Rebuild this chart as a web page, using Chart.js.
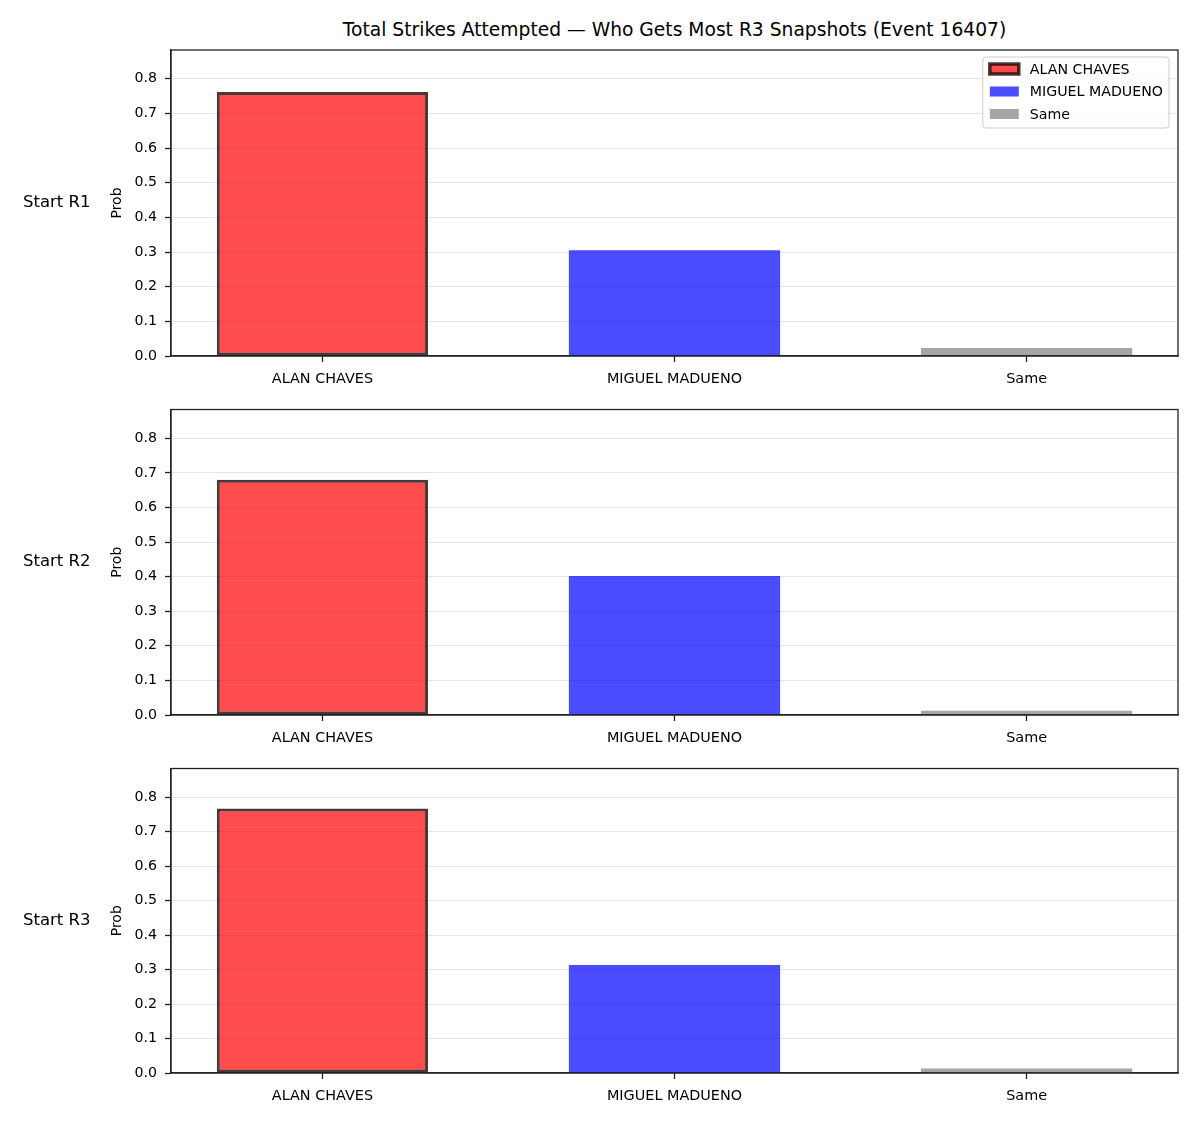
<!DOCTYPE html>
<html><head><meta charset="utf-8">
<script src="https://cdn.jsdelivr.net/npm/chart.js@4.4.0/dist/chart.umd.min.js"></script>
<style>
html,body{margin:0;padding:0;background:#fff;width:1200px;height:1125px;overflow:hidden;font-family:"DejaVu Sans",sans-serif;color:#000;}
canvas{position:absolute;left:0;}
.txt{position:absolute;white-space:nowrap;line-height:22px;}
</style></head><body>
<div id="title" class="txt" style="left:171px;width:1007px;top:19px;text-align:center;font-size:18.7px;"></div>
<canvas id="c0" width="1200" height="400" style="top:0px"></canvas>
<canvas id="c1" width="1200" height="366" style="top:393px"></canvas>
<canvas id="c2" width="1200" height="365" style="top:752px"></canvas>
<script>
// ---- data ----
const titleText = 'Total Strikes Attempted — Who Gets Most R3 Snapshots (Event 16407)';
const categories = ['ALAN CHAVES', 'MIGUEL MADUENO', 'Same'];
const rowLabels = ['Start R1', 'Start R2', 'Start R3'];
const probStartR1 = [0.762, 0.305, 0.023];
const probStartR2 = [0.680, 0.402, 0.012];
const probStartR3 = [0.767, 0.313, 0.013];
const yTickValues = [0.0, 0.1, 0.2, 0.3, 0.4, 0.5, 0.6, 0.7, 0.8];
const yAxisTitle = 'Prob';

// ---- styles ----
const fills = ['rgba(255,0,0,0.7)', 'rgba(0,0,255,0.7)', 'rgba(128,128,128,0.7)'];
const edges = ['rgba(20,0,0,0.78)', 'rgba(0,0,0,0)', 'rgba(0,0,0,0)'];
const edgeW = [3, 0, 0];
const FONT = 'DejaVu Sans';

document.getElementById('title').textContent = titleText;

const framePlugin = {
  id: 'frame',
  afterDatasetsDraw(chart) {
    const a = chart.chartArea, ctx = chart.ctx;
    ctx.save();
    ctx.strokeStyle = '#222';
    ctx.lineWidth = 1.3;
    ctx.strokeRect(a.left, a.top, a.right - a.left, a.bottom - a.top);
    ctx.restore();
  }
};

const insideLegend = {
  id: 'insideLegend',
  afterDraw(chart, args, opts) {
    if (!opts.show) return;
    const ctx = chart.ctx, a = chart.chartArea;
    ctx.save();
    ctx.font = '14.2px "' + FONT + '"';
    const items = chart.data.datasets;
    const tw = Math.max(...items.map(d => ctx.measureText(d.label).width));
    const w = 7 + 30 + 11 + tw + 5, rowH = 22.5, h = 71;
    const x = a.right - 9 - w, y = a.top + 7;
    ctx.beginPath();
    ctx.roundRect(x, y, w, h, 3);
    ctx.fillStyle = 'rgba(255,255,255,0.8)';
    ctx.fill();
    ctx.strokeStyle = '#cccccc';
    ctx.lineWidth = 1;
    ctx.stroke();
    items.forEach((d, i) => {
      const cy = y + 12 + i * rowH;
      const px = x + 7, pw = 29, ph = 10;
      ctx.fillStyle = d.backgroundColor;
      ctx.fillRect(px, cy - ph / 2, pw, ph);
      if (d.borderWidth > 0) {
        ctx.strokeStyle = d.borderColor;
        ctx.lineWidth = 3.5;
        ctx.strokeRect(px, cy - ph / 2, pw, ph);
      }
      ctx.fillStyle = '#000';
      ctx.textBaseline = 'middle';
      ctx.textAlign = 'left';
      ctx.fillText(d.label, x + 47, cy + 1);
    });
    ctx.restore();
  }
};

function makeChart(id, values, showLegend, padTop, xAxisH) {
  return new Chart(document.getElementById(id), {
    type: 'bar',
    data: {
      datasets: categories.map((c, i) => ({
        label: c,
        data: [{ x: i, y: values[i] }],
        backgroundColor: fills[i],
        borderColor: edges[i],
        borderWidth: edgeW[i],
        borderSkipped: false,
        grouped: false,
        categoryPercentage: 1,
        barPercentage: 0.6
      }))
    },
    options: {
      responsive: false,
      animation: false,
      devicePixelRatio: 1,
      layout: { padding: { left: 105, right: 22, top: padTop, bottom: 0 } },
      plugins: {
        legend: { display: false },
        tooltip: { enabled: false },
        insideLegend: { show: showLegend }
      },
      scales: {
        x: {
          type: 'linear', min: -0.43, max: 2.43, offset: false,
          afterBuildTicks: s => { s.ticks = categories.map((_, i) => ({ value: i })); },
          afterFit: s => { s.height = xAxisH; },
          ticks: {
            callback: v => categories[v] !== undefined ? categories[v] : '',
            font: { family: FONT, size: 14.4 }, color: '#000', padding: 9,
            maxRotation: 0, autoSkip: false
          },
          grid: { display: true, drawOnChartArea: false, offset: false, tickLength: 6, tickColor: '#222', tickWidth: 1.3 },
          border: { display: true, color: '#222', width: 1.3 }
        },
        y: {
          min: 0, max: 0.883,
          afterBuildTicks: s => { s.ticks = yTickValues.map(v => ({ value: v })); },
          afterFit: s => { s.width = 66; },
          ticks: { callback: v => Number(v).toFixed(1), font: { family: FONT, size: 14.2 }, color: '#000', padding: 8 },
          grid: { color: 'rgba(0,0,0,0.1)', lineWidth: 1, tickColor: '#222', tickLength: 6, tickWidth: 1.3 },
          border: { display: true, color: '#222', width: 1.3 },
          title: { display: true, text: yAxisTitle, font: { family: FONT, size: 14 }, color: '#000', padding: { top: 4, bottom: 4 } }
        }
      }
    },
    plugins: [framePlugin, insideLegend]
  });
}

const allValues = [probStartR1, probStartR2, probStartR3];
const padTops = [50, 8, 8];
const canvasTops = [0, 393, 752];
const axisH = 44;
allValues.forEach((vals, i) => {
  const ch = makeChart('c' + i, vals, i === 0, padTops[i], axisH);
  const a = ch.chartArea;
  const div = document.createElement('div');
  div.className = 'txt';
  div.style.left = '23px';
  div.style.fontSize = '16.5px';
  div.style.top = (canvasTops[i] + (a.top + a.bottom) / 2 - 12) + 'px';
  div.textContent = rowLabels[i];
  document.body.appendChild(div);
});
</script>
</body></html>
